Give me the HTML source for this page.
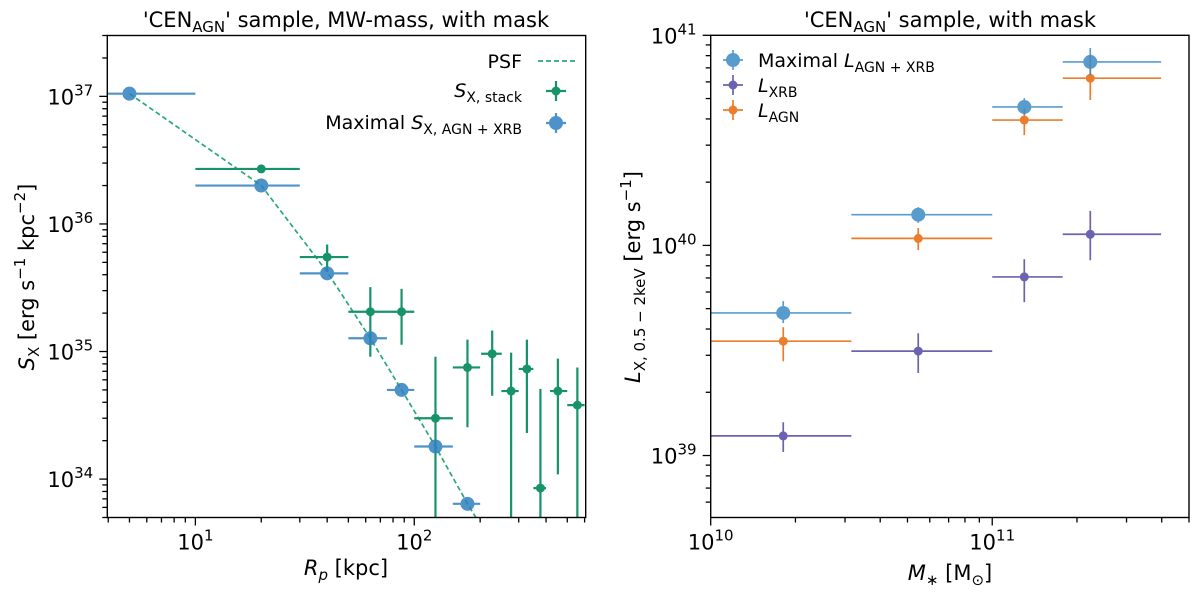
<!DOCTYPE html>
<html><head><meta charset="utf-8">
<style>
html,body{margin:0;padding:0;background:#fff;overflow:hidden;width:1200px;height:597px;}
svg{display:block;font-family:"DejaVu Sans","Liberation Sans",sans-serif;}
</style></head>
<body>
<svg id="chart" width="1200" height="597" viewBox="0 0 1200 597" xmlns="http://www.w3.org/2000/svg"></svg>
<script>
// ---------- LEFT PANEL DATA ----------
const stackR = [20, 40, 63, 87.5, 125, 175, 227, 277, 327, 377, 453, 556];
const stackRlo = [10, 30, 50, 75, 100, 150, 202, 250, 300, 350, 417, 500];
const stackRhi = [30, 50, 75, 100, 150, 200, 251, 300, 350, 400, 500, 600];
const stackS = [2.7e36, 5.5e35, 2.05e35, 2.05e35, 3.0e34, 7.5e34, 9.6e34, 4.9e34, 7.3e34, 8.5e33, 4.9e34, 3.8e34];
const stackSlo = [2.6e36, 4.2e35, 9.1e34, 1.13e35, 1e30, 2.55e34, 4.5e34, 1e30, 2.3e34, 1e30, 1.09e34, 1e30];
const stackShi = [2.8e36, 6.9e35, 3.2e35, 3.1e35, 9.1e34, 1.24e35, 1.46e35, 9.8e34, 1.24e35, 5.1e34, 8.8e34, 7.5e34];
const maxR = [5, 20, 40, 63, 87.5, 125, 175];
const maxRlo = [3, 10, 30, 50, 75, 100, 150];
const maxRhi = [10, 30, 50, 75, 100, 150, 200];
const maxS = [1.05e37, 2.0e36, 4.1e35, 1.27e35, 5.0e34, 1.8e34, 6.4e33];
const psfR = [5, 20, 40, 63, 87.5, 125, 175, 200];
const psfS = [1.05e37, 2.0e36, 4.2e35, 1.27e35, 5.0e34, 1.8e34, 6.4e33, 4.4e33];
// ---------- RIGHT PANEL DATA ----------
const massM = [1.81e10, 5.46e10, 1.30e11, 2.23e11];
const massLo = [1e10, 3.16e10, 1e11, 1.78e11];
const massHi = [3.16e10, 1e11, 1.78e11, 3.98e11];
const lMax = [4.77e39, 1.40e40, 4.56e40, 7.47e40];
const lMaxLo = [4.27e39, 1.28e40, 4.17e40, 6.46e40];
const lMaxHi = [5.43e39, 1.52e40, 5.02e40, 8.7e40];
const lAgn = [3.5e39, 1.08e40, 3.95e40, 6.25e40];
const lAgnLo = [2.81e39, 9.5e39, 3.35e40, 4.92e40];
const lAgnHi = [4.08e39, 1.21e40, 4.5e40, 8.05e40];
const lXrb = [1.24e39, 3.14e39, 7.08e39, 1.13e40];
const lXrbLo = [1.04e39, 2.47e39, 5.37e39, 8.5e39];
const lXrbHi = [1.44e39, 3.82e39, 8.6e39, 1.46e40];

const NS = "http://www.w3.org/2000/svg";
const svg = document.getElementById('chart');
function mk(tag, attrs, parent, text){
  const e = document.createElementNS(NS, tag);
  for (const k in attrs) e.setAttribute(k, attrs[k]);
  if (text !== undefined) e.textContent = text;
  (parent || svg).appendChild(e);
  return e;
}
function logScale(d0, d1, p0, p1){
  const a = Math.log10(d0), b = Math.log10(d1);
  return v => p0 + (Math.log10(v) - a) / (b - a) * (p1 - p0);
}

function drawAxes(g, X, Y, L, R, T, B, xd, yd, xExp, yExp){
  const ax = mk('g', {}, g);
  
  
  mk('rect', {x:L, y:T, width:R-L, height:B-T, fill:'none', stroke:'#000', 'stroke-width':1.4}, ax);
  for (let e = Math.floor(Math.log10(xd[0])); e <= Math.ceil(Math.log10(xd[1])); e++){
    for (let m = 1; m < 10; m++){
      const v = m * Math.pow(10, e);
      if (v < xd[0]*0.999 || v > xd[1]*1.001) continue;
      const px = X(v);
      mk('line', {x1:px, x2:px, y1:B, y2:B + (m===1?8:5), stroke:'#000', 'stroke-width':1.3}, ax);
      if (m === 1 && xExp.includes(e)){
        const t = mk('text', {x:px, y:B+32, 'font-size':21, 'text-anchor':'middle'}, ax);
        
        
        mk('tspan', {}, t, '10');
        mk('tspan', {dy:-9, 'font-size':15}, t, String(e));
      }
    }
  }
  for (let e = Math.floor(Math.log10(yd[0])); e <= Math.ceil(Math.log10(yd[1])); e++){
    for (let m = 1; m < 10; m++){
      const v = m * Math.pow(10, e);
      if (v < yd[0]*0.999 || v > yd[1]*1.001) continue;
      const py = Y(v);
      mk('line', {x1:L - (m===1?8:5), x2:L, y1:py, y2:py, stroke:'#000', 'stroke-width':1.3}, ax);
      if (m === 1 && yExp.includes(e)){
        const t = mk('text', {x:L-37, y:py+8, 'font-size':21, 'text-anchor':'middle'}, ax);
        
        
        mk('tspan', {}, t, '10');
        mk('tspan', {dy:-9, 'font-size':15}, t, String(e));
      }
    }
  }
}

function errPoint(g, X, Y, x, xlo, xhi, y, ylo, yhi, color, r, width, opacity, name){
  const pg = mk('g', {opacity: opacity}, g);
  
  
  mk('line', {x1:X(xlo), x2:X(xhi), y1:Y(y), y2:Y(y), stroke:color, 'stroke-width':width}, pg);
  if (ylo !== null) mk('line', {x1:X(x), x2:X(x), y1:Y(ylo), y2:Y(yhi), stroke:color, 'stroke-width':width}, pg);
  mk('circle', {cx:X(x), cy:Y(y), r:r, fill:color}, pg);
}

// ---------- LEFT ----------
(function(){
  const L=107.3, R=585.7, T=35.5, B=517.5;
  const xd=[3.96, 607], yd=[5e33, 3e37];
  const X = logScale(xd[0], xd[1], L, R);
  const Y = logScale(yd[0], yd[1], B, T);
  const g = mk('g', {});
  
  
  const clipDef = mk('defs', {}, g);
  const cp = mk('clipPath', {id:'clipL'}, clipDef);
  mk('rect', {x:L, y:T, width:R-L, height:B-T}, cp);
  const plot = mk('g', {'clip-path':'url(#clipL)'}, g);
  let d = psfR.map((r,i)=> (i?'L':'M') + X(r).toFixed(1) + ',' + Y(psfS[i]).toFixed(1)).join(' ');
  const psf = mk('path', {d:d, fill:'none', stroke:'#2aa77d', 'stroke-width':1.7, 'stroke-dasharray':'5,3'}, plot);
  
  
  for (let i=0;i<stackR.length;i++){
    errPoint(plot, X, Y, stackR[i], stackRlo[i], stackRhi[i], stackS[i], stackSlo[i], stackShi[i], '#17936a', 4.5, 2.2, 1, 'stack-point');
  }
  for (let i=0;i<maxR.length;i++){
    errPoint(plot, X, Y, maxR[i], maxRlo[i], maxRhi[i], maxS[i], maxS[i]*0.93, maxS[i]*1.07, '#2f80c0', 7, 2.2, 0.85, 'maximal-point');
  }
  drawAxes(g, X, Y, L, R, T, B, xd, yd, [1,2], [34,35,36,37]);
  const t = mk('text', {x:346, y:27, 'font-size':21, 'text-anchor':'middle'}, g);
  
  
  mk('tspan', {}, t, "'CEN");
  mk('tspan', {dy:5, 'font-size':15}, t, 'AGN');
  mk('tspan', {dy:-5}, t, "' sample, MW-mass, with mask");
  const xl = mk('text', {x:346, y:575, 'font-size':21, 'text-anchor':'middle'}, g);
  
  
  mk('tspan', {'font-style':'italic'}, xl, 'R');
  mk('tspan', {dy:5, 'font-size':15, 'font-style':'italic'}, xl, 'p');
  mk('tspan', {dy:-5}, xl, ' [kpc]');
  const yl = mk('text', {transform:'translate(34,277) rotate(-90)', 'font-size':21, 'text-anchor':'middle'}, g);
  
  
  mk('tspan', {'font-style':'italic'}, yl, 'S');
  mk('tspan', {dy:5, 'font-size':15}, yl, 'X');
  mk('tspan', {dy:-5}, yl, ' [erg s');
  mk('tspan', {dy:-9, 'font-size':15}, yl, '−1');
  mk('tspan', {dy:9}, yl, ' kpc');
  mk('tspan', {dy:-9, 'font-size':15}, yl, '−2');
  mk('tspan', {dy:9}, yl, ']');
  const lg = mk('g', {}, g);
  
  
  const t1 = mk('text', {x:522, y:68, 'font-size':19, 'text-anchor':'end'}, lg, 'PSF');
  
  
  mk('line', {x1:538, x2:578, y1:61, y2:61, stroke:'#2aa77d', 'stroke-width':1.7, 'stroke-dasharray':'5,3'}, lg);
  const t2 = mk('text', {x:522, y:97, 'font-size':19, 'text-anchor':'end'}, lg);
  
  
  mk('tspan', {'font-style':'italic'}, t2, 'S');
  mk('tspan', {dy:5, 'font-size':14}, t2, 'X, stack');
  mk('line', {x1:546, x2:566, y1:91, y2:91, stroke:'#17936a', 'stroke-width':2.2}, lg);
  mk('line', {x1:556, x2:556, y1:81, y2:101, stroke:'#17936a', 'stroke-width':2.2}, lg);
  mk('circle', {cx:556, cy:91, r:4.5, fill:'#17936a'}, lg);
  const t3 = mk('text', {x:522, y:129, 'font-size':19, 'text-anchor':'end'}, lg);
  
  
  mk('tspan', {}, t3, 'Maximal ');
  mk('tspan', {'font-style':'italic'}, t3, 'S');
  mk('tspan', {dy:5, 'font-size':14}, t3, 'X, AGN + XRB');
  const lm = mk('g', {opacity:0.85}, lg);
  mk('line', {x1:546, x2:566, y1:123, y2:123, stroke:'#2f80c0', 'stroke-width':2.2}, lm);
  mk('line', {x1:556, x2:556, y1:113, y2:133, stroke:'#2f80c0', 'stroke-width':2.2}, lm);
  mk('circle', {cx:556, cy:123, r:7, fill:'#2f80c0'}, lm);
})();

// ---------- RIGHT ----------
(function(){
  const L=710.7, R=1189, T=35.3, B=517.5;
  const xd=[1e10, 5e11], yd=[5.07e38, 1e41];
  const X = logScale(xd[0], xd[1], L, R);
  const Y = logScale(yd[0], yd[1], B, T);
  const g = mk('g', {});
  
  
  const cBlue='#3b8bc6', cOr='#ec7d2c', cPu='#6b62b0';
  for (let i=0;i<massM.length;i++){
    errPoint(g, X, Y, massM[i], massLo[i], massHi[i], lXrb[i], lXrbLo[i], lXrbHi[i], cPu, 4.5, 1.7, 1, 'xrb-point');
  }
  for (let i=0;i<massM.length;i++){
    errPoint(g, X, Y, massM[i], massLo[i], massHi[i], lAgn[i], lAgnLo[i], lAgnHi[i], cOr, 4.5, 1.7, 1, 'agn-point');
  }
  for (let i=0;i<massM.length;i++){
    errPoint(g, X, Y, massM[i], massLo[i], massHi[i], lMax[i], lMaxLo[i], lMaxHi[i], cBlue, 7, 1.7, 0.85, 'maximal-point');
  }
  drawAxes(g, X, Y, L, R, T, B, xd, yd, [10,11], [39,40,41]);
  const t = mk('text', {x:950, y:27, 'font-size':21, 'text-anchor':'middle'}, g);
  
  
  mk('tspan', {}, t, "'CEN");
  mk('tspan', {dy:5, 'font-size':15}, t, 'AGN');
  mk('tspan', {dy:-5}, t, "' sample, with mask");
  const xl = mk('text', {x:950, y:580, 'font-size':21, 'text-anchor':'middle'}, g);
  
  
  mk('tspan', {'font-style':'italic'}, xl, 'M');
  mk('tspan', {dy:5, 'font-size':15}, xl, '∗');
  mk('tspan', {dy:-5}, xl, ' [M');
  mk('tspan', {dy:5, 'font-size':15}, xl, '⊙');
  mk('tspan', {dy:-5}, xl, ']');
  const yl = mk('text', {transform:'translate(640,277) rotate(-90)', 'font-size':21, 'text-anchor':'middle'}, g);
  
  
  mk('tspan', {'font-style':'italic'}, yl, 'L');
  mk('tspan', {dy:5, 'font-size':15}, yl, 'X, 0.5 − 2keV');
  mk('tspan', {dy:-5}, yl, ' [erg s');
  mk('tspan', {dy:-9, 'font-size':15}, yl, '−1');
  mk('tspan', {dy:9}, yl, ']');
  const lg = mk('g', {}, g);
  
  
  const items = [[cBlue,7,0.85,60],[cPu,4.5,1,85],[cOr,4.5,1,110]];
  items.forEach(it=>{
    const h = mk('g', {opacity:it[2]}, lg);
    mk('line', {x1:723, x2:743, y1:it[3], y2:it[3], stroke:it[0], 'stroke-width':1.7}, h);
    mk('line', {x1:733, x2:733, y1:it[3]-10, y2:it[3]+10, stroke:it[0], 'stroke-width':1.7}, h);
    mk('circle', {cx:733, cy:it[3], r:it[1], fill:it[0]}, h);
  });
  const a = mk('text', {x:758, y:67, 'font-size':19}, lg);
  
  
  mk('tspan', {}, a, 'Maximal ');
  mk('tspan', {'font-style':'italic'}, a, 'L');
  mk('tspan', {dy:5, 'font-size':14}, a, 'AGN + XRB');
  const b = mk('text', {x:758, y:92, 'font-size':19}, lg);
  
  
  mk('tspan', {'font-style':'italic'}, b, 'L');
  mk('tspan', {dy:5, 'font-size':14}, b, 'XRB');
  const c = mk('text', {x:758, y:117, 'font-size':19}, lg);
  
  
  mk('tspan', {'font-style':'italic'}, c, 'L');
  mk('tspan', {dy:5, 'font-size':14}, c, 'AGN');
})();
</script>
</body></html>
